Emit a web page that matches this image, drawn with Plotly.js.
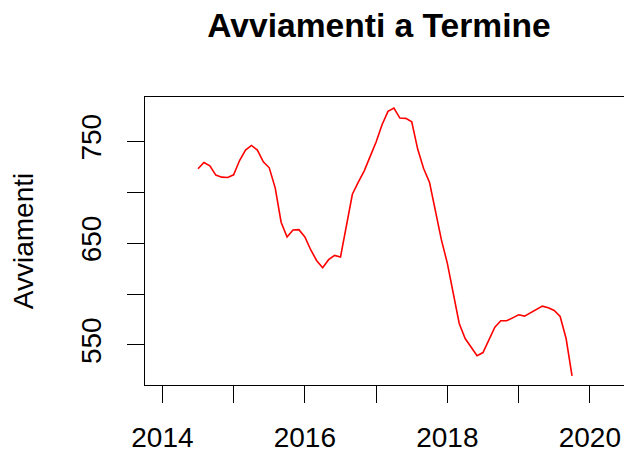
<!DOCTYPE html>
<html>
<head>
<meta charset="utf-8">
<script src="https://cdn.plot.ly/plotly-3.0.1.min.js"></script>
<style>
html, body { margin: 0; padding: 0; overflow: hidden; background: #fff; }
#chart { width: 650px; height: 453px; }
</style>
</head>
<body>
<div id="chart"></div>
<script>
// Monthly series starting July 2014
var startYear = 2014;
var startMonth = 7;
var values = [
  723.1, 729.3, 726.1, 716.9, 714.9, 714.6, 717.2, 731.3, 741.5, 746.1,
  741.5, 730.0, 724.1, 704.4, 670.6, 656.1, 663.0, 663.3, 656.1, 643.3,
  632.8, 625.9, 633.8, 638.0, 636.4, 667.9, 698.1, 710.0, 721.1, 735.3,
  749.4, 766.5, 779.6, 782.9, 773.0, 772.7, 769.4, 742.5, 723.4, 709.6,
  681.1, 653.2, 630.2, 600.6, 571.1, 556.3, 547.7, 539.5, 542.5, 555.0,
  567.4, 573.7, 573.7, 576.6, 579.6, 578.3, 581.6, 585.5, 588.1, 586.5,
  583.9, 578.0, 556.3, 519.5
];
var xTickVals = [2014, 2015, 2016, 2017, 2018, 2019, 2020];
var xTickText = ["2014", "", "2016", "", "2018", "", "2020"];
var yTickVals = [550, 600, 650, 700, 750];
var yTickText = ["550", "", "650", "", "750"];

var times = values.map(function (v, i) {
  return startYear + (startMonth - 1 + i) / 12;
});

var fontFam = '"Liberation Sans", Arial, Helvetica, sans-serif';

var trace = {
  x: times,
  y: values,
  type: 'scatter',
  mode: 'lines',
  line: { color: '#ff0000', width: 1.6 },
  hoverinfo: 'skip'
};

var layout = {
  width: 650,
  height: 453,
  margin: { l: 145, r: 10, t: 97, b: 68, pad: 0 },
  paper_bgcolor: '#ffffff',
  plot_bgcolor: '#ffffff',
  showlegend: false,
  font: { family: fontFam, size: 28, color: '#000000' },
  title: {
    text: 'Avviamenti a Termine',
    font: { family: fontFam, size: 33.6, color: '#000000', weight: 'bold' },
    xref: 'container', yref: 'container',
    x: 379 / 650, y: 1 - 25 / 453,
    xanchor: 'center', yanchor: 'middle'
  },
  xaxis: {
    range: [2013.756, 2020.704],
    tickmode: 'array',
    tickvals: xTickVals,
    ticktext: xTickText,
    ticks: 'outside', ticklen: 17, tickwidth: 1, tickcolor: '#000',
    ticklabelstandoff: 10,
    showline: true, linecolor: '#000', linewidth: 1, mirror: true,
    showgrid: false, zeroline: false,
    tickfont: { family: fontFam, size: 28, color: '#000' },
    automargin: false
  },
  yaxis: {
    range: [510.6, 793.7],
    tickmode: 'array',
    tickvals: yTickVals,
    ticktext: yTickText,
    tickangle: -90,
    ticks: 'outside', ticklen: 17, tickwidth: 1, tickcolor: '#000',
    ticklabelstandoff: 15,
    showline: true, linecolor: '#000', linewidth: 1, mirror: true,
    showgrid: false, zeroline: false,
    tickfont: { family: fontFam, size: 28, color: '#000' },
    title: { text: 'Avviamenti', font: { family: fontFam, size: 28, color: '#000' }, standoff: 33 },
    automargin: false
  }
};

Plotly.newPlot('chart', [trace], layout, { staticPlot: true, displayModeBar: false });
</script>
</body>
</html>
